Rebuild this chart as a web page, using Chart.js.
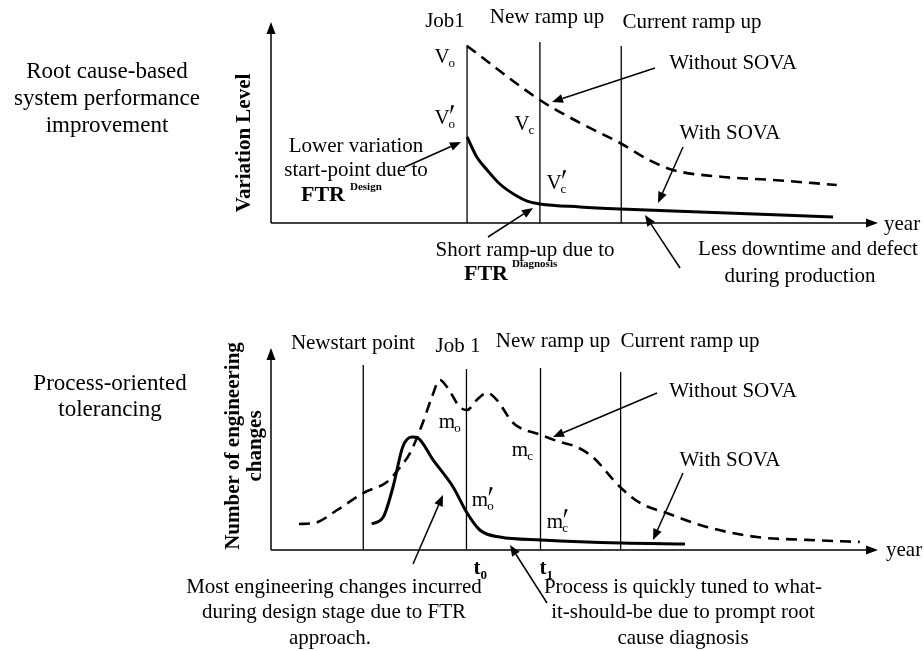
<!DOCTYPE html>
<html>
<head>
<meta charset="utf-8">
<script src="https://cdn.jsdelivr.net/npm/chart.js@4.4.1/dist/chart.umd.min.js"></script>
<style>
html,body{margin:0;padding:0;background:#fff;}
#wrap{position:relative;width:924px;height:651px;overflow:hidden;}
#wrap canvas{position:absolute;left:0;top:0;}
</style>
</head>
<body>
<div id="wrap">
<canvas id="topChart" width="924" height="651"></canvas>
<canvas id="botChart" width="924" height="651"></canvas>
</div>
<script>
// ---------------- DATA ----------------
// Top panel: variation level vs. year
const topMilestoneNames = ['Job1', 'New ramp up', 'Current ramp up'];
const topMilestoneX     = [3.23, 4.43, 5.77];
const topMilestoneTop   = [8.86, 9.00, 8.80];

const topWithoutX = [3.23, 4.43, 5.09, 5.75, 6.25, 6.62, 7.45, 8.27, 9.32];
const topWithoutY = [8.81, 6.12, 4.98, 3.98, 3.10, 2.64, 2.29, 2.14, 1.89];

const topWithX = [3.23, 3.39, 3.56, 3.77, 4.05, 4.22, 4.43, 5.09, 5.75, 7.07, 9.26];
const topWithY = [4.28, 3.28, 2.64, 1.94, 1.34, 1.09, 0.95, 0.80, 0.70, 0.55, 0.30];

// Bottom panel: number of engineering changes vs. year
const botMilestoneNames = ['Newstart point', 'Job 1', 'New ramp up', 'Current ramp up'];
const botMilestoneX     = [1.52, 3.22, 4.44, 5.76];
const botMilestoneTop   = [9.16, 8.96, 9.01, 8.81];

const botWithoutX = [0.46, 0.72, 1.09, 1.52, 1.91, 2.09, 2.29, 2.50, 2.65, 2.78, 2.90, 3.11, 3.23,
                     3.39, 3.56, 3.72, 3.99, 4.45, 4.76, 5.04, 5.30, 5.75, 6.08, 6.52, 7.18, 8.01, 8.83, 9.70];
const botWithoutY = [1.29, 1.34, 1.98, 2.82, 3.37, 3.96, 4.80, 6.29, 7.57, 8.42, 8.07, 7.08, 6.93,
                     7.43, 7.77, 7.43, 6.29, 5.69, 5.35, 5.10, 4.60, 3.12, 2.33, 1.83, 1.14, 0.64, 0.50, 0.40];

const botWithX = [1.66, 1.85, 2.01, 2.17, 2.32, 2.42, 2.67, 3.00, 3.23, 3.44, 3.77, 4.45, 5.77, 6.82];
const botWithY = [1.29, 1.63, 3.12, 5.10, 5.59, 5.54, 4.46, 3.12, 1.83, 0.99, 0.64, 0.50, 0.35, 0.30];

// ---------------- HELPERS ----------------
const SERIF = '"Liberation Serif", "Times New Roman", serif';
function pts(xs, ys){ return xs.map((x, i) => ({x: x, y: ys[i]})); }

function milestoneSets(xs, tops){
  return xs.map((x, i) => ({
    data: [{x: x, y: 0}, {x: x, y: tops[i]}],
    showLine: true, borderColor: '#000', borderWidth: 1.3, pointRadius: 0, fill: false
  }));
}

function drawArrow(ctx, x1, y1, x2, y2, lw, len, hw){
  lw = lw || 1.5; len = len || 11; hw = hw || 4.5;
  ctx.save();
  ctx.strokeStyle = '#000'; ctx.fillStyle = '#000'; ctx.lineWidth = lw;
  const a = Math.atan2(y2 - y1, x2 - x1);
  const bx = x2 - len * Math.cos(a), by = y2 - len * Math.sin(a);
  ctx.beginPath(); ctx.moveTo(x1, y1); ctx.lineTo(bx, by); ctx.stroke();
  ctx.beginPath(); ctx.moveTo(x2, y2);
  ctx.lineTo(bx + hw * Math.sin(a), by - hw * Math.cos(a));
  ctx.lineTo(bx - hw * Math.sin(a), by + hw * Math.cos(a));
  ctx.closePath(); ctx.fill();
  ctx.restore();
}

function drawText(ctx, t){
  ctx.save();
  ctx.fillStyle = '#000';
  ctx.font = (t.bold ? 'bold ' : '') + (t.size || 21) + 'px ' + SERIF;
  ctx.textAlign = t.align || 'center';
  ctx.textBaseline = 'middle';
  ctx.translate(t.x, t.y);
  if (t.rot) ctx.rotate(t.rot);
  ctx.fillText(t.t, 0, 0);
  ctx.restore();
}

function drawSym(ctx, s){
  ctx.save();
  ctx.fillStyle = '#000';
  ctx.strokeStyle = '#000';
  ctx.textBaseline = 'middle';
  ctx.font = (s.bold ? 'bold ' : '') + (s.size || 21) + 'px ' + SERIF;
  ctx.textAlign = 'center';
  ctx.fillText(s.main, s.x, s.y);
  const w = ctx.measureText(s.main).width;
  const px = s.x + w / 2;
  ctx.textAlign = 'left';
  if (s.prime){
    // prime mark: a small tapered slanted stroke
    ctx.beginPath();
    ctx.moveTo(px + 1.8, s.y - 13);
    ctx.lineTo(px + 4.6, s.y - 12.4);
    ctx.lineTo(px + 1.2, s.y - 4.5);
    ctx.lineTo(px + 0.6, s.y - 4.8);
    ctx.closePath();
    ctx.fill();
  }
  ctx.font = (s.bold ? 'bold ' : '') + '13px ' + SERIF;
  ctx.fillText(s.sub, px + (s.bold ? 0 : -1), s.y + 7);
  ctx.restore();
}

function axesPlugin(ann){
  return {
    id: 'axesAndNotes',
    afterDatasetsDraw(chart){
      const ctx = chart.ctx, a = chart.chartArea;
      ctx.save();
      ctx.strokeStyle = '#000'; ctx.lineWidth = 1.5;
      ctx.beginPath(); ctx.moveTo(a.left, a.bottom); ctx.lineTo(a.left, a.top + 10); ctx.stroke();
      ctx.beginPath(); ctx.moveTo(a.left, a.bottom); ctx.lineTo(a.right - 10, a.bottom); ctx.stroke();
      ctx.restore();
      drawArrow(ctx, a.left, a.top + 12, a.left, a.top, 1.5, 12, 4.5);
      drawArrow(ctx, a.right - 12, a.bottom, a.right, a.bottom, 1.5, 12, 4.5);
      (ann.texts || []).forEach(t => drawText(ctx, t));
      (ann.syms || []).forEach(s => drawSym(ctx, s));
      (ann.arrows || []).forEach(r => drawArrow(ctx, r[0], r[1], r[2], r[3], 1.5, 11, 4.5));
    }
  };
}

function makeChart(id, padding, sets, ann){
  return new Chart(document.getElementById(id), {
    type: 'scatter',
    data: { datasets: sets },
    options: {
      responsive: false, animation: false, events: [],
      layout: { padding: padding },
      plugins: { legend: { display: false }, tooltip: { enabled: false } },
      scales: {
        x: { type: 'linear', min: 0, max: 10, display: false },
        y: { type: 'linear', min: 0, max: 10, display: false }
      }
    },
    plugins: [axesPlugin(ann)]
  });
}

// ---------------- TOP PANEL ----------------
const topSets = milestoneSets(topMilestoneX, topMilestoneTop).concat([
  { label: 'Without SOVA', data: pts(topWithoutX, topWithoutY), showLine: true,
    borderColor: '#000', borderWidth: 2.6, borderDash: [11, 7], pointRadius: 0,
    cubicInterpolationMode: 'monotone', fill: false },
  { label: 'With SOVA', data: pts(topWithX, topWithY), showLine: true,
    borderColor: '#000', borderWidth: 3, pointRadius: 0,
    cubicInterpolationMode: 'monotone', fill: false }
]);

const topAnn = {
  texts: [
    {t: 'Root cause-based', x: 107, y: 72, size: 23},
    {t: 'system performance', x: 107, y: 99, size: 23},
    {t: 'improvement', x: 107, y: 126, size: 23},
    {t: 'Variation Level', x: 245, y: 143, bold: true, rot: -Math.PI / 2},
    {t: topMilestoneNames[0], x: 445, y: 21},
    {t: topMilestoneNames[1], x: 547, y: 17},
    {t: topMilestoneNames[2], x: 692, y: 22},
    {t: 'Without SOVA', x: 733, y: 63},
    {t: 'With SOVA', x: 730, y: 133},
    {t: 'Lower variation', x: 356, y: 146},
    {t: 'start-point due to', x: 356, y: 170},
    {t: 'FTR', x: 323, y: 195, bold: true, size: 22},
    {t: 'Design', x: 350, y: 187, bold: true, size: 11, align: 'left'},
    {t: 'Short ramp-up due to', x: 525, y: 250},
    {t: 'FTR', x: 486, y: 274, bold: true, size: 22},
    {t: 'Diagnosis', x: 512, y: 264, bold: true, size: 11, align: 'left'},
    {t: 'Less downtime and defect', x: 808, y: 249},
    {t: 'during production', x: 800, y: 276},
    {t: 'year', x: 884, y: 224, align: 'left'}
  ],
  syms: [
    {main: 'V', sub: 'o', x: 442, y: 57},
    {main: 'V', sub: 'o', prime: true, x: 442, y: 118},
    {main: 'V', sub: 'c', x: 522, y: 124},
    {main: 'V', sub: 'c', prime: true, x: 554, y: 183}
  ],
  arrows: [
    [655, 68, 552, 102],
    [683, 147, 658, 203],
    [405, 167, 461, 142],
    [488, 237, 533, 208],
    [680, 268, 645, 215]
  ]
};

// ---------------- BOTTOM PANEL ----------------
const botSets = milestoneSets(botMilestoneX, botMilestoneTop).concat([
  { label: 'Without SOVA', data: pts(botWithoutX, botWithoutY), showLine: true,
    borderColor: '#000', borderWidth: 2.6, borderDash: [11, 7], pointRadius: 0,
    cubicInterpolationMode: 'monotone', fill: false },
  { label: 'With SOVA', data: pts(botWithX, botWithY), showLine: true,
    borderColor: '#000', borderWidth: 3, pointRadius: 0,
    cubicInterpolationMode: 'monotone', fill: false }
]);

const botAnn = {
  texts: [
    {t: 'Process-oriented', x: 110, y: 384, size: 23},
    {t: 'tolerancing', x: 110, y: 410, size: 23},
    {t: 'Number of engineering', x: 234, y: 446, bold: true, rot: -Math.PI / 2},
    {t: 'changes', x: 256, y: 446, bold: true, rot: -Math.PI / 2},
    {t: botMilestoneNames[0], x: 353, y: 343},
    {t: botMilestoneNames[1], x: 458, y: 346},
    {t: botMilestoneNames[2], x: 553, y: 341},
    {t: botMilestoneNames[3], x: 690, y: 341},
    {t: 'Without SOVA', x: 733, y: 391},
    {t: 'With SOVA', x: 730, y: 460},
    {t: 'Most engineering changes incurred', x: 334, y: 587},
    {t: 'during design stage due to FTR', x: 334, y: 612},
    {t: 'approach.', x: 330, y: 638},
    {t: 'Process is quickly tuned to what-', x: 683, y: 587},
    {t: 'it-should-be due to prompt root', x: 683, y: 612},
    {t: 'cause diagnosis', x: 683, y: 638},
    {t: 'year', x: 886, y: 550, align: 'left'}
  ],
  syms: [
    {main: 'm', sub: 'o', x: 447, y: 422},
    {main: 'm', sub: 'c', x: 520, y: 450},
    {main: 'm', sub: 'o', prime: true, x: 480, y: 500},
    {main: 'm', sub: 'c', prime: true, x: 555, y: 522},
    {main: 't', sub: '0', bold: true, x: 477, y: 569},
    {main: 't', sub: '1', bold: true, x: 543, y: 569}
  ],
  arrows: [
    [657, 393, 553, 437],
    [683, 473, 653, 540],
    [413, 564, 443, 495],
    [547, 603, 510, 545]
  ]
};

makeChart('topChart', {left: 271, right: 46, top: 22, bottom: 428}, topSets, topAnn);
makeChart('botChart', {left: 271, right: 46, top: 348, bottom: 101}, botSets, botAnn);
</script>
</body>
</html>
